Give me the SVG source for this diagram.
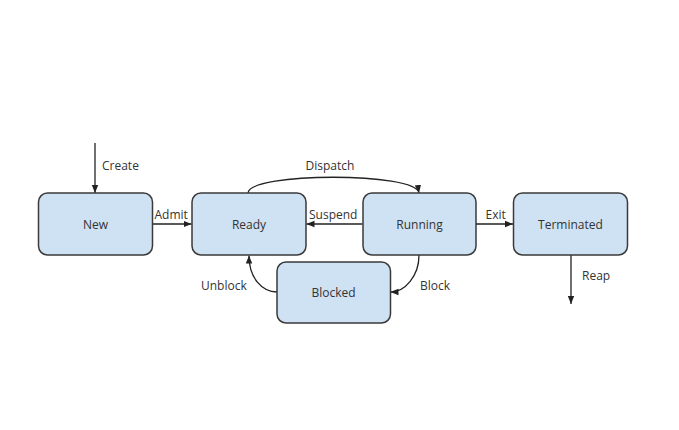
<svg xmlns="http://www.w3.org/2000/svg" width="679" height="430" viewBox="0 0 679 430">
<defs>
<marker id="arr" viewBox="0 0 10 10" refX="10" refY="5" markerWidth="8" markerHeight="8" markerUnits="userSpaceOnUse" orient="auto">
<path d="M0,1 L10,5 L0,9 z" fill="#222"/>
</marker>
<style>
.box{fill:#cfe2f3;stroke:#3a3a3a;stroke-width:1.5}
.lbl{font-family:"Open Sans","DejaVu Sans",sans-serif;font-size:12px;fill:#333;text-anchor:middle;dominant-baseline:central}
.el{font-family:"Open Sans","DejaVu Sans",sans-serif;font-size:12px;fill:#333}
.edge{fill:none;stroke:#222;stroke-width:1.3;marker-end:url(#arr)}
</style>
</defs>
<rect width="679" height="430" fill="#fff"/>
<g id="connectors">
<path class="edge" d="M95,143 L95,193"/>
<path class="edge" d="M153,224 L191.5,224"/>
<path class="edge" d="M362.5,224 L306.5,224"/>
<path class="edge" d="M476,224 L513,224"/>
<path class="edge" d="M248,193 C250,172 416,172 419,193"/>
<path class="edge" d="M419,255 C419,276 405,292 390.5,292"/>
<path class="edge" d="M277,292 C262,292 249,278 249,255.5"/>
<path class="edge" d="M571,255 L571,304"/>
<text class="el" x="102" y="170">Create</text>
<text class="el" x="154.5" y="219">Admit</text>
<text class="el" x="309" y="219">Suspend</text>
<text class="el" x="485.5" y="219">Exit</text>
<text class="el" x="305.5" y="169.5">Dispatch</text>
<text class="el" x="420" y="290">Block</text>
<text class="el" x="201" y="290">Unblock</text>
<text class="el" x="582" y="280">Reap</text>
</g>
<g id="new"><rect class="box" x="38.5" y="193" width="114" height="62" rx="9"/><text class="lbl" x="95.5" y="224">New</text></g>
<g id="ready"><rect class="box" x="192" y="193" width="114" height="62" rx="9"/><text class="lbl" x="249" y="224">Ready</text></g>
<g id="running"><rect class="box" x="363" y="193" width="113" height="62" rx="9"/><text class="lbl" x="419.5" y="224">Running</text></g>
<g id="terminated"><rect class="box" x="513.5" y="193" width="114" height="62" rx="9"/><text class="lbl" x="570.5" y="224">Terminated</text></g>
<g id="blocked"><rect class="box" x="277" y="262" width="113.5" height="61" rx="9"/><text class="lbl" x="333.5" y="292.5">Blocked</text></g>
</svg>
